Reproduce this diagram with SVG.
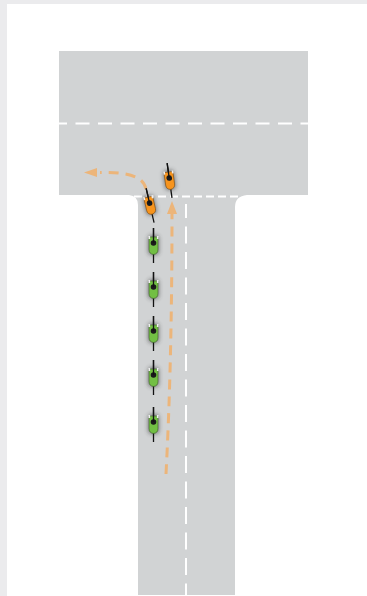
<svg xmlns="http://www.w3.org/2000/svg" width="367" height="596" viewBox="0 0 367 596">
<defs>
<style>
.road{fill:#d1d3d4}
.mark{fill:none;stroke:#fff;stroke-width:2}
.route{fill:none;stroke:#ecb57a;stroke-width:3;stroke-dasharray:10 7}
.head{fill:#ecb57a}
.frame{fill:none;stroke:#111;stroke-width:1.3}
</style>
<filter id="soft" x="-80%" y="-80%" width="260%" height="260%"><feGaussianBlur stdDeviation="2.2"/></filter>
<g id="bike-base">
<rect x="-5.5" y="-10" width="11" height="20" rx="4" fill="#333" opacity=".55" filter="url(#soft)"/>
<line class="frame" x1="0" y1="-17" x2="0" y2="18"/>
</g>
<g id="bike-green">
<use href="#bike-base"/>
<path d="M-4.5 -8H4.5V4.5Q4.5 9 0 9.500Q-4.500 9 -4.500 4.500Z" fill="#72bf44" stroke="#3c5a2b" stroke-width=".6"/>
<rect x="-5" y="-9" width="1.600" height="3" fill="#eee"/><rect x="3.400" y="-9" width="1.600" height="3" fill="#eee"/>
<circle cx="0" cy="-2" r="2.800" fill="#1a1a1a"/><line class="frame" x1="0" y1="-17" x2="0" y2="-2"/>
</g>
<g id="bike-orange">
<use href="#bike-base"/>
<path d="M-4.5 -8H4.5V4.5Q4.5 9 0 9.500Q-4.500 9 -4.500 4.500Z" fill="#f7941d" stroke="#7a4a12" stroke-width=".6"/>
<rect x="-5" y="-9" width="1.600" height="3" fill="#eee"/><rect x="3.400" y="-9" width="1.600" height="3" fill="#eee"/>
<circle cx="0" cy="-2" r="2.800" fill="#1a1a1a"/><line class="frame" x1="0" y1="-17" x2="0" y2="-2"/>
</g>
</defs>
<rect id="page" width="367" height="596" fill="#ebebed"/>
<rect id="paper" x="7" y="4" width="360" height="592" fill="#fff"/>
<g id="roads">
<path class="road" d="M59 51H308V195H247Q235 196 235 207V595H138V205Q138 196 129 195H59Z"/>
</g>
<g id="markings">
<path class="mark" d="M59 123.500H308" stroke-dasharray="14 8.500" stroke-dashoffset="6"/>
<path class="mark" d="M186 204V595" stroke-dasharray="17 8.500" stroke-dashoffset="3"/>
<path class="mark" d="M134 196.500H240" stroke-dasharray="8 4"/>
</g>
<g id="connectors">
<path class="route" d="M166 474Q172 360 172 214"/>
<path class="head" d="M172 201L177 214H167Z"/>
<path class="route" d="M146 189C143 176 128 172 100 172.500"/>
<path class="head" d="M84 172.500L97 168V177Z"/>
</g>
<g id="bike-1"><use href="#bike-orange" transform="translate(169.500 180) rotate(-8)"/></g>
<g id="bike-2"><use href="#bike-orange" transform="translate(150 205) rotate(-13)"/></g>
<g id="bike-3"><use href="#bike-green" transform="translate(153.500 245)"/></g>
<g id="bike-4"><use href="#bike-green" transform="translate(153.500 289)"/></g>
<g id="bike-5"><use href="#bike-green" transform="translate(153.500 333)"/></g>
<g id="bike-6"><use href="#bike-green" transform="translate(153.500 377)"/></g>
<g id="bike-7"><use href="#bike-green" transform="translate(153.500 424)"/></g>
</svg>
